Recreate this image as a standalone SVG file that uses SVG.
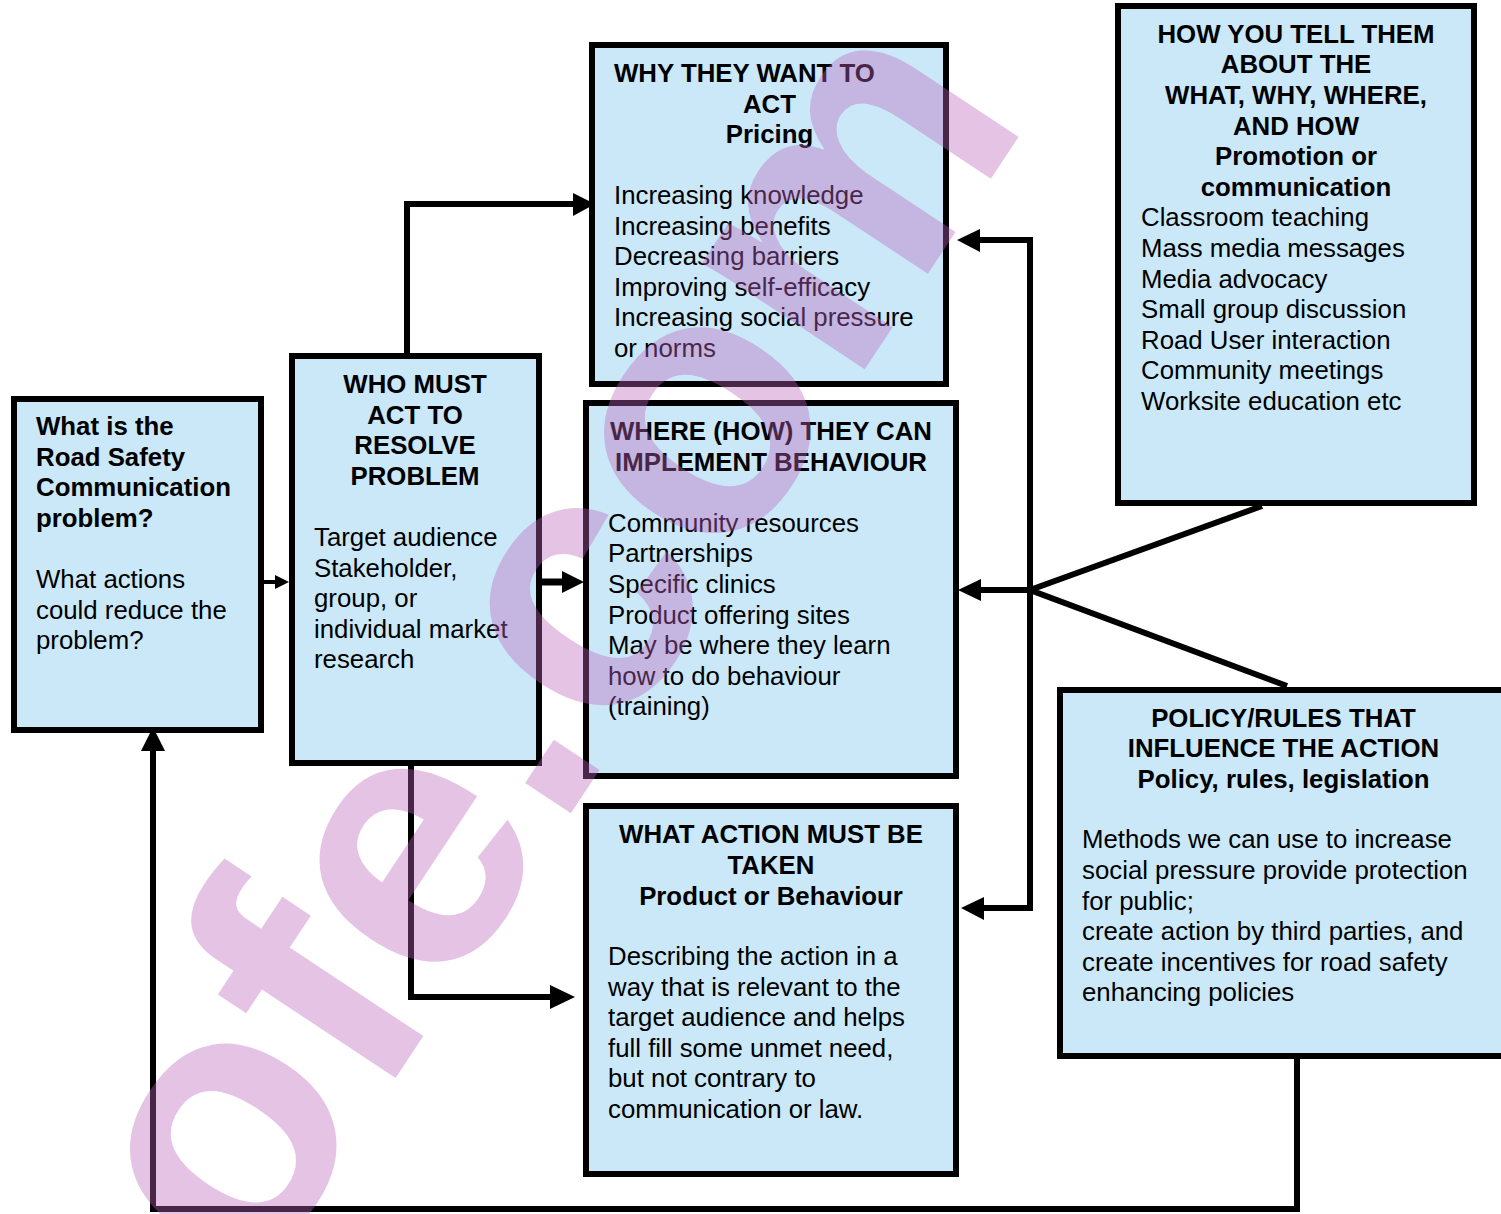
<svg xmlns="http://www.w3.org/2000/svg" width="1501" height="1214" viewBox="0 0 1501 1214">
<style>
.box{fill:#cae8f8;stroke:#000;stroke-width:6}
.h{font-family:"Liberation Sans",Arial,sans-serif;font-size:25.8px;font-weight:bold;fill:#000}
.t{font-family:"Liberation Sans",Arial,sans-serif;font-size:25.8px;fill:#000}
.c{text-anchor:middle}
.ln{fill:none;stroke:#000;stroke-width:6}
.ah{fill:#000;stroke:none}
.wm{font-family:"Liberation Sans",Arial,sans-serif;font-size:368px;font-weight:bold;fill:rgb(189,100,189);opacity:0.38}
</style>
<rect width="1501" height="1214" fill="#fff"/>
<g id="connectors">
<path class="ln" style="stroke-width:4" d="M264,582 H277"/>
<polygon class="ah" points="275,575 289,582 275,589"/>
<path class="ln" style="stroke-width:7" d="M542,582 H565"/>
<polygon class="ah" points="562,571 584,582 562,593"/>
<path class="ln" d="M407,356 V204 H576"/>
<polygon class="ah" points="573,193 595,204 573,216"/>
<path class="ln" d="M411,766 V997 H553"/>
<polygon class="ah" points="550,985 575,997 550,1009"/>
<path class="ln" d="M1297,1059 V1209 H153 V748"/>
<polygon class="ah" points="141,751 153,727 165,751"/>
<path class="ln" d="M979,240 H1030 V908 H982"/>
<polygon class="ah" points="980,229 957,240 980,252"/>
<path class="ln" d="M1030,590 H980"/>
<polygon class="ah" points="981,579 958,590 981,601"/>
<polygon class="ah" points="984,897 961,908 984,920"/>
<path class="ln" d="M1262,506 L1030,590 L1287,686"/>
</g>
<g id="node-problem">
<rect class="box" x="14" y="399" width="247" height="331"/>
<text class="h" x="36" y="435">What is the</text>
<text class="h" x="36" y="465.6">Road Safety</text>
<text class="h" x="36" y="496.2">Communication</text>
<text class="h" x="36" y="526.8">problem?</text>
<text class="t" x="36" y="588">What actions</text>
<text class="t" x="36" y="618.6">could reduce the</text>
<text class="t" x="36" y="649.2">problem?</text>
</g>
<g id="node-who">
<rect class="box" x="292" y="356" width="247" height="407"/>
<text class="h c" x="415" y="393">WHO MUST</text>
<text class="h c" x="415" y="423.6">ACT TO</text>
<text class="h c" x="415" y="454.2">RESOLVE</text>
<text class="h c" x="415" y="484.8">PROBLEM</text>
<text class="t" x="314" y="546">Target audience</text>
<text class="t" x="314" y="576.6">Stakeholder,</text>
<text class="t" x="314" y="607.2">group, or</text>
<text class="t" x="314" y="637.8">individual market</text>
<text class="t" x="314" y="668.4">research</text>
</g>
<g id="node-why">
<rect class="box" x="592" y="45" width="354" height="339"/>
<text class="h" x="614" y="82">WHY THEY WANT TO</text>
<text class="h c" x="769.5" y="112.6">ACT</text>
<text class="h c" x="769.5" y="143.2">Pricing</text>
<text class="t" x="614" y="204">Increasing knowledge</text>
<text class="t" x="614" y="234.6">Increasing benefits</text>
<text class="t" x="614" y="265.2">Decreasing barriers</text>
<text class="t" x="614" y="295.8">Improving self-efficacy</text>
<text class="t" x="614" y="326.4">Increasing social pressure</text>
<text class="t" x="614" y="357">or norms</text>
</g>
<g id="node-where">
<rect class="box" x="586" y="403" width="370" height="373"/>
<text class="h c" x="771" y="440">WHERE (HOW) THEY CAN</text>
<text class="h c" x="771" y="470.6">IMPLEMENT BEHAVIOUR</text>
<text class="t" x="608" y="531.7">Community resources</text>
<text class="t" x="608" y="562.3">Partnerships</text>
<text class="t" x="608" y="592.9">Specific clinics</text>
<text class="t" x="608" y="623.5">Product offering sites</text>
<text class="t" x="608" y="654.1">May be where they learn</text>
<text class="t" x="608" y="684.7">how to do behaviour</text>
<text class="t" x="608" y="715.3">(training)</text>
</g>
<g id="node-what">
<rect class="box" x="586" y="806" width="370" height="368"/>
<text class="h c" x="771" y="843.3">WHAT ACTION MUST BE</text>
<text class="h c" x="771" y="873.9">TAKEN</text>
<text class="h c" x="771" y="904.5">Product or Behaviour</text>
<text class="t" x="608" y="965">Describing the action in a</text>
<text class="t" x="608" y="995.6">way that is relevant to the</text>
<text class="t" x="608" y="1026.2">target audience and helps</text>
<text class="t" x="608" y="1056.8">full fill some unmet need,</text>
<text class="t" x="608" y="1087.4">but not contrary to</text>
<text class="t" x="608" y="1118">communication or law.</text>
</g>
<g id="node-how">
<rect class="box" x="1118" y="6" width="356" height="497"/>
<text class="h c" x="1296" y="42.7">HOW YOU TELL THEM</text>
<text class="h c" x="1296" y="73.3">ABOUT THE</text>
<text class="h c" x="1296" y="103.9">WHAT, WHY, WHERE,</text>
<text class="h c" x="1296" y="134.5">AND HOW</text>
<text class="h c" x="1296" y="165.1">Promotion or</text>
<text class="h c" x="1296" y="195.7">communication</text>
<text class="t" x="1141" y="226.3">Classroom teaching</text>
<text class="t" x="1141" y="256.9">Mass media messages</text>
<text class="t" x="1141" y="287.5">Media advocacy</text>
<text class="t" x="1141" y="318.1">Small group discussion</text>
<text class="t" x="1141" y="348.7">Road User interaction</text>
<text class="t" x="1141" y="379.3">Community meetings</text>
<text class="t" x="1141" y="409.9">Worksite education etc</text>
</g>
<g id="node-policy">
<rect class="box" x="1060" y="690" width="460" height="366"/>
<text class="h c" x="1283.5" y="726.7">POLICY/RULES THAT</text>
<text class="h c" x="1283.5" y="757.3">INFLUENCE THE ACTION</text>
<text class="h c" x="1283.5" y="787.9">Policy, rules, legislation</text>
<text class="t" x="1082" y="848.3">Methods we can use to increase</text>
<text class="t" x="1082" y="878.9">social pressure provide protection</text>
<text class="t" x="1082" y="909.5">for public;</text>
<text class="t" x="1082" y="940.1">create action by third parties, and</text>
<text class="t" x="1082" y="970.7">create incentives for road safety</text>
<text class="t" x="1082" y="1001.3">enhancing policies</text>
</g>
<g id="watermark">
<text class="wm" x="252.4" y="1294.4" transform="rotate(-56.5 252.4 1294.4)">ofe.com</text>
</g>
</svg>
